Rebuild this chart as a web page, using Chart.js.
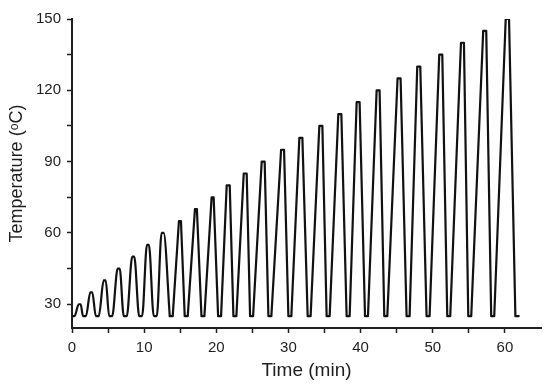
<!DOCTYPE html>
<html>
<head>
<meta charset="utf-8">
<title>Temperature cycling</title>
<script src="https://cdn.jsdelivr.net/npm/chart.js@4/dist/chart.umd.min.js"></script>
<style>
  html, body { margin: 0; padding: 0; background: #fff; }
  #wrap { width: 550px; height: 387px; }
</style>
</head>
<body>
<div id="wrap"><canvas id="chart" width="550" height="387"></canvas></div>
<script>
// Cycle data (time in min, temperature in degC)
const baseTemp = 25;
const startTime = 0;
const endTime = 61.91;
const peakTemp = [30, 35, 40, 45, 50, 55, 60, 65, 70, 75, 80, 85, 90,
                  95, 100, 105, 110, 115, 120, 125, 130, 135, 140, 145, 150];
// time the heating starts, plateau start, plateau end, back at base
const riseStart = [0.35, 1.94, 3.71, 5.57, 7.59, 9.72, 11.75, 13.96, 16.04, 18.35,
                   20.66, 22.78, 25.10, 27.63, 30.40, 33.07, 35.71, 38.48, 41.02, 43.70,
                   46.79, 49.56, 52.42, 55.33, 58.52];
const peakStart = [0.93, 2.53, 4.39, 6.33, 8.35, 10.39, 12.42, 14.82, 17.04, 19.35,
                   21.44, 23.80, 26.29, 28.98, 31.51, 34.28, 36.91, 39.45, 42.22, 45.12,
                   47.85, 50.90, 53.91, 56.99, 60.11];
const peakEnd = [1.20, 2.81, 4.67, 6.61, 8.63, 10.66, 12.70, 15.10, 17.31, 19.63,
                 21.86, 24.21, 26.70, 29.39, 31.93, 34.70, 37.33, 39.86, 42.63, 45.54,
                 48.27, 51.32, 54.32, 57.41, 60.57];
const fallEnd = [1.52, 3.30, 5.15, 7.17, 9.31, 11.33, 13.55, 15.62, 17.94, 20.25,
                 22.37, 24.68, 27.22, 29.99, 32.66, 35.29, 38.06, 40.61, 43.28, 46.37,
                 49.14, 52.01, 54.92, 58.10, 61.45];

// axis ticks
const xTicks = [0, 5, 10, 15, 20, 25, 30, 35, 40, 45, 50, 55, 60];
const xLabels = [0, 10, 20, 30, 40, 50, 60];
const yTicks = [30, 45, 60, 75, 90, 105, 120, 135, 150];
const yLabels = [30, 60, 90, 120, 150];

// small early cycles look rounded, the tall ones are nearly straight ramps
const smoothCycles = 7;

const early = [{ x: startTime, y: baseTemp }];
const late = [];
peakTemp.forEach((t, i) => {
    const pts = i < smoothCycles ? early : late;
    if (i === smoothCycles) late.push({ x: early[early.length - 1].x, y: baseTemp });
    pts.push({ x: riseStart[i], y: baseTemp });
    pts.push({ x: peakStart[i], y: t });
    pts.push({ x: peakEnd[i], y: t });
    pts.push({ x: fallEnd[i], y: baseTemp });
});
late.push({ x: endTime, y: baseTemp });

const ink = '#1e1e1e';
const fontFamily = '"Liberation Sans", Arial, sans-serif';

const lineStyle = {
    borderColor: '#111',
    borderWidth: 2.2,
    pointRadius: 0,
    borderJoinStyle: 'round',
    borderCapStyle: 'round',
    fill: false
};

new Chart(document.getElementById('chart'), {
    type: 'line',
    data: {
        datasets: [
            Object.assign({ data: early, cubicInterpolationMode: 'monotone' }, lineStyle),
            Object.assign({ data: late, tension: 0 }, lineStyle)
        ]
    },
    options: {
        responsive: false,
        animation: false,
        devicePixelRatio: 1,
        layout: { padding: { top: 19, right: 9, bottom: 0, left: 0 } },
        plugins: {
            legend: { display: false },
            tooltip: { enabled: false }
        },
        scales: {
            x: {
                type: 'linear',
                min: 0,
                max: 65,
                afterBuildTicks: (scale) => { scale.ticks = xTicks.map(v => ({ value: v })); },
                afterFit: (scale) => { scale.height = 59; },
                grid: { drawOnChartArea: false, drawTicks: true, tickLength: 5, color: ink, tickWidth: 1.5 },
                border: { display: true, color: ink, width: 2 },
                ticks: {
                    autoSkip: false,
                    maxRotation: 0,
                    padding: 6,
                    color: ink,
                    font: { family: fontFamily, size: 15 },
                    callback: (v) => xLabels.includes(v) ? String(v) : ''
                },
                title: {
                    display: true,
                    text: 'Time (min)',
                    color: ink,
                    font: { family: fontFamily, size: 19 },
                    padding: { top: 0, bottom: 4.6 }
                }
            },
            y: {
                type: 'linear',
                min: 20,
                max: 150,
                afterBuildTicks: (scale) => { scale.ticks = yTicks.map(v => ({ value: v })); },
                afterFit: (scale) => { scale.width = 72; },
                grid: { drawOnChartArea: false, drawTicks: true, tickLength: 5, color: ink, tickWidth: 1.5 },
                border: { display: true, color: ink, width: 2 },
                ticks: {
                    autoSkip: false,
                    padding: 6,
                    color: ink,
                    font: { family: fontFamily, size: 15 },
                    callback: (v) => yLabels.includes(v) ? String(v) : ''
                },
                title: {
                    display: true,
                    text: 'Temperature (ᵒC)',
                    color: ink,
                    font: { family: fontFamily, size: 18 },
                    padding: { top: 6.2, bottom: 0 }
                }
            }
        }
    }
});
</script>
</body>
</html>
